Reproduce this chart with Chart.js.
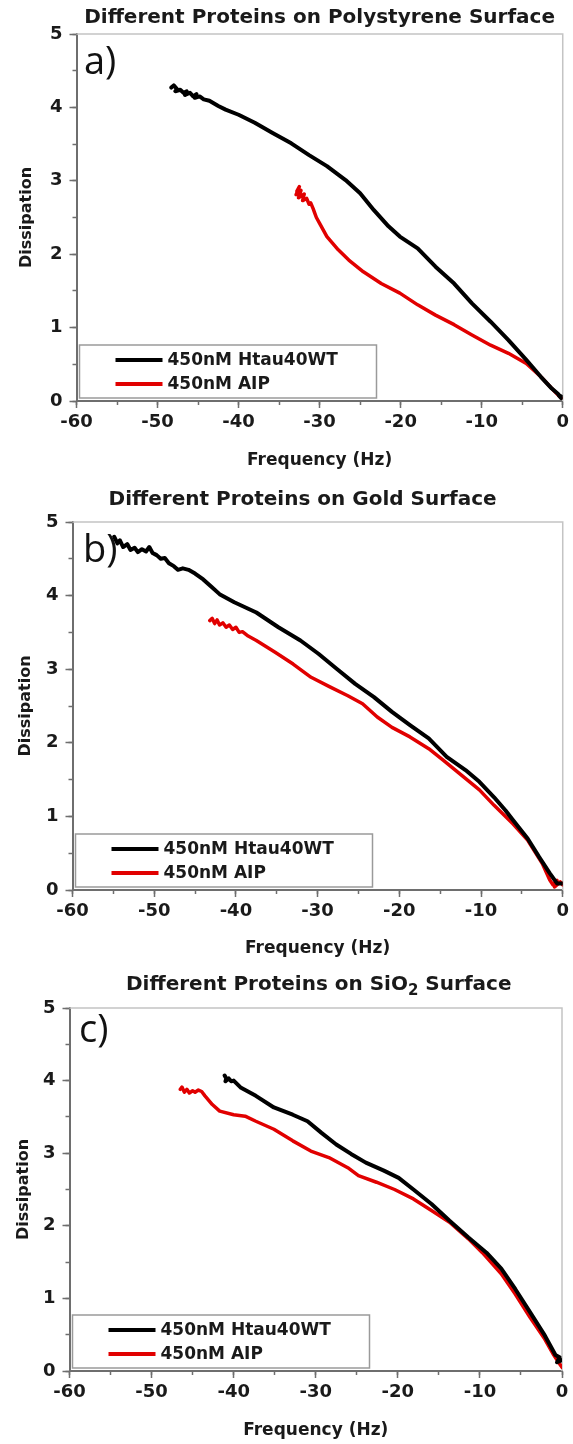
<!DOCTYPE html>
<html>
<head>
<meta charset="UTF-8">
<title>Different Proteins on Surfaces</title>
<script src="https://cdn.jsdelivr.net/npm/chart.js"></script>
<style>
	body { margin: 0; padding: 0; background: #fff; width: 573px; height: 1444px; overflow: hidden; position: relative; }
	.panel { position: absolute; left: 0; }
	canvas { display: block; }
</style>
</head>
<body>
<div class="panel" style="top:0px"><canvas id="chartA" width="573" height="478"></canvas></div>
<div class="panel" style="top:478px"><canvas id="chartB" width="573" height="482"></canvas></div>
<div class="panel" style="top:960px"><canvas id="chartC" width="573" height="484"></canvas></div>

<script>
// legend labels
var seriesNames = ['450nM Htau40WT', '450nM AIP'];
var seriesColors = ['#000000', '#e10000'];

// axis ticks
var freqTicks = [-60, -50, -40, -30, -20, -10, 0];
var dissTicks = [0, 1, 2, 3, 4, 5];

// a) polystyrene
var aBlackFreq = [-48.3, -48.0, -47.6, -47.8, -47.2, -46.8, -46.4, -46.6, -46.0, -45.6, -45.2, -45.4, -44.8, -44.3, -43.6, -42.5, -41.6, -40.0, -38.0, -35.8, -33.5, -31.3, -29.1, -26.8, -25.0, -23.3, -21.5, -20.1, -17.9, -15.7, -13.4, -11.2, -8.9, -6.7, -4.5, -2.7, -1.35, -0.6, -0.2, -0.5, 0];
var aBlackDiss = [4.27, 4.30, 4.25, 4.22, 4.24, 4.20, 4.22, 4.17, 4.20, 4.15, 4.18, 4.13, 4.15, 4.11, 4.09, 4.02, 3.97, 3.90, 3.79, 3.65, 3.51, 3.35, 3.20, 3.01, 2.83, 2.60, 2.38, 2.24, 2.08, 1.83, 1.60, 1.33, 1.08, 0.83, 0.56, 0.33, 0.17, 0.10, 0.04, 0.08, 0.05];
var aRedFreq = [-32.8, -32.5, -32.9, -32.3, -32.6, -31.9, -32.1, -31.6, -31.3, -31.1, -30.8, -30.6, -30.4, -30.0, -29.1, -27.7, -26.4, -24.6, -22.4, -20.1, -17.9, -15.7, -13.4, -11.2, -8.9, -6.7, -4.5, -2.7, -1.35, -0.2];
var aRedDiss = [2.86, 2.92, 2.81, 2.87, 2.77, 2.82, 2.73, 2.76, 2.68, 2.70, 2.62, 2.56, 2.50, 2.42, 2.24, 2.06, 1.92, 1.76, 1.60, 1.47, 1.31, 1.17, 1.04, 0.90, 0.76, 0.65, 0.51, 0.33, 0.17, 0.04];

// b) gold
var bBlackFreq = [-54.9, -54.5, -54.2, -53.8, -53.3, -52.9, -52.4, -52.0, -51.5, -51.0, -50.6, -50.2, -49.7, -49.2, -48.7, -48.2, -47.6, -47.1, -46.5, -45.8, -45.0, -44.0, -43.0, -42.0, -40.2, -37.5, -34.8, -32.1, -29.9, -27.6, -25.4, -23.1, -20.9, -18.7, -16.4, -14.2, -11.9, -10.2, -8.4, -7.0, -6.1, -4.3, -2.9, -1.6, -0.7, -0.1];
var bBlackDiss = [4.80, 4.71, 4.75, 4.66, 4.70, 4.62, 4.65, 4.59, 4.63, 4.60, 4.66, 4.58, 4.55, 4.50, 4.51, 4.44, 4.40, 4.35, 4.37, 4.35, 4.30, 4.22, 4.12, 4.02, 3.91, 3.77, 3.57, 3.39, 3.21, 3.00, 2.80, 2.62, 2.42, 2.24, 2.06, 1.81, 1.63, 1.47, 1.26, 1.08, 0.95, 0.70, 0.45, 0.23, 0.09, 0.09];
var bRedFreq = [-43.2, -42.9, -42.6, -42.3, -42.0, -41.6, -41.2, -40.8, -40.4, -40.0, -39.6, -39.2, -38.5, -37.5, -35.2, -33.0, -30.8, -28.5, -26.3, -24.5, -22.7, -20.9, -18.7, -16.4, -14.6, -12.4, -10.2, -8.4, -6.1, -4.3, -2.5, -1.6, -1.2, -0.7, -1.0, -0.3, 0];
var bRedDiss = [3.66, 3.69, 3.62, 3.67, 3.60, 3.63, 3.57, 3.60, 3.54, 3.57, 3.50, 3.51, 3.45, 3.39, 3.23, 3.07, 2.89, 2.76, 2.64, 2.53, 2.35, 2.21, 2.08, 1.92, 1.76, 1.56, 1.36, 1.15, 0.90, 0.68, 0.36, 0.14, 0.07, 0.13, 0.04, 0.11, 0.07];

// c) SiO2
var cBlackFreq = [-41.1, -40.9, -41.0, -40.6, -40.3, -40.0, -39.1, -37.3, -35.1, -32.8, -31.0, -29.3, -27.5, -25.7, -23.9, -21.7, -19.9, -18.1, -15.9, -13.7, -11.4, -9.2, -7.4, -5.7, -3.9, -2.1, -0.8, -0.3, -0.6, 0];
var cBlackDiss = [4.07, 4.03, 3.99, 4.03, 3.99, 4.00, 3.90, 3.79, 3.63, 3.53, 3.44, 3.28, 3.12, 2.99, 2.87, 2.76, 2.66, 2.50, 2.30, 2.07, 1.84, 1.63, 1.41, 1.13, 0.81, 0.49, 0.22, 0.19, 0.12, 0.15];
var cRedFreq = [-46.5, -46.3, -46.0, -45.7, -45.4, -45.0, -44.7, -44.3, -43.9, -43.5, -42.6, -41.7, -40.0, -38.6, -37.3, -35.1, -32.8, -30.6, -28.4, -26.1, -24.8, -22.6, -20.4, -18.1, -15.9, -13.7, -11.4, -9.7, -7.4, -5.7, -3.9, -2.1, -1.0, -0.3, 0];
var cRedDiss = [3.88, 3.91, 3.84, 3.88, 3.83, 3.86, 3.84, 3.87, 3.85, 3.79, 3.67, 3.58, 3.53, 3.51, 3.44, 3.33, 3.17, 3.03, 2.94, 2.80, 2.69, 2.60, 2.50, 2.37, 2.21, 2.05, 1.82, 1.63, 1.34, 1.06, 0.74, 0.44, 0.22, 0.10, 0.05];

var axisGray = '#6e6e6e';
var tickFont = { family: 'DejaVu Sans', weight: 'bold', size: 18 };

function pts(xs, ys) {
	var out = [];
	for (var i = 0; i < xs.length; i++) out.push({ x: xs[i], y: ys[i] });
	return out;
}

// frame, panel title, panel letter and boxed legend
var panelDecor = {
	id: 'panelDecor',
	beforeDatasetsDraw: function (chart) {
		var ctx = chart.ctx, ca = chart.chartArea;
		ctx.save();
		ctx.strokeStyle = '#c4c4c4';
		ctx.lineWidth = 1.5;
		ctx.beginPath();
		ctx.moveTo(ca.left, ca.top);
		ctx.lineTo(ca.right, ca.top);
		ctx.lineTo(ca.right, ca.bottom);
		ctx.stroke();
		ctx.restore();
	},
	afterDatasetsDraw: function (chart, args, o) {
		var ctx = chart.ctx, ca = chart.chartArea;
		ctx.save();

		// title (parts, so the SiO2 subscript can be drawn)
		var mainFont = 'bold 20px "DejaVu Sans"';
		var subFont = 'bold 15px "DejaVu Sans"';
		var total = 0;
		o.title.forEach(function (p) {
			ctx.font = p.sub ? subFont : mainFont;
			p.w = ctx.measureText(p.t).width;
			total += p.w;
		});
		var x = (ca.left + ca.right) / 2 + o.titleDx - total / 2;
		var y = ca.top + o.titleDy;
		ctx.fillStyle = '#1a1a1a';
		ctx.textBaseline = 'middle';
		ctx.textAlign = 'left';
		o.title.forEach(function (p) {
			ctx.font = p.sub ? subFont : mainFont;
			ctx.fillText(p.t, x, p.sub ? y + 7 : y);
			x += p.w;
		});

		// panel letter
		ctx.font = '38px "Open Sans"';
		ctx.textBaseline = 'alphabetic';
		ctx.fillStyle = '#111';
		ctx.fillText(o.letter, ca.left + o.letterDx, ca.top + o.letterDy);

		// legend box
		var lx = ca.left + 3, lw = 297, ly = ca.bottom - 56, lh = 53;
		ctx.fillStyle = '#fff';
		ctx.fillRect(lx, ly, lw, lh);
		ctx.strokeStyle = '#9a9a9a';
		ctx.lineWidth = 1.5;
		ctx.strokeRect(lx, ly, lw, lh);
		var rows = [ca.bottom - 41, ca.bottom - 17];
		ctx.font = 'bold 17px "DejaVu Sans"';
		ctx.textBaseline = 'middle';
		chart.data.datasets.forEach(function (ds, i) {
			ctx.strokeStyle = ds.borderColor;
			ctx.lineWidth = 4;
			ctx.beginPath();
			ctx.moveTo(ca.left + 39, rows[i]);
			ctx.lineTo(ca.left + 86, rows[i]);
			ctx.stroke();
			ctx.fillStyle = '#1a1a1a';
			ctx.fillText(ds.label, ca.left + 91, rows[i] + 1);
		});
		ctx.restore();
	}
};

function makePanel(canvasId, black, red, p) {
	var ctx = document.getElementById(canvasId).getContext('2d');
	return new Chart(ctx, {
		type: 'scatter',
		data: {
			datasets: [{
				label: seriesNames[0],
				data: black,
				showLine: true,
				borderColor: seriesColors[0],
				backgroundColor: seriesColors[0],
				borderWidth: 4,
				borderJoinStyle: 'round',
				borderCapStyle: 'round',
				pointRadius: 0,
				tension: 0
			}, {
				label: seriesNames[1],
				data: red,
				showLine: true,
				borderColor: seriesColors[1],
				backgroundColor: seriesColors[1],
				borderWidth: 3.5,
				borderJoinStyle: 'round',
				borderCapStyle: 'round',
				pointRadius: 0,
				tension: 0
			}]
		},
		options: {
			responsive: false,
			animation: false,
			devicePixelRatio: 1,
			layout: { padding: { top: p.top, right: p.right, left: 0, bottom: 0 } },
			plugins: {
				legend: { display: false },
				tooltip: { enabled: false },
				panelDecor: p.decor
			},
			scales: {
				x: {
					type: 'linear', position: 'bottom', weight: 1,
					min: -60, max: 0,
					afterBuildTicks: function (s) { s.ticks = freqTicks.map(function (v) { return { value: v }; }); },
					ticks: { font: tickFont, color: '#1a1a1a', padding: 4, maxRotation: 0 },
					grid: { drawOnChartArea: false, tickLength: 7, tickColor: axisGray, tickWidth: 1.5 },
					border: { color: axisGray, width: 2 },
					title: { display: true, text: 'Frequency (Hz)', color: '#1a1a1a',
						font: { family: 'DejaVu Sans', weight: 'bold', size: 17 },
						padding: { top: 0, bottom: p.xTitlePad } },
					afterFit: function (s) { s.height = p.xHeight; }
				},
				xMinor: {
					type: 'linear', position: 'bottom', weight: 0,
					min: -60, max: 0,
					ticks: { stepSize: 5, display: false },
					grid: { drawOnChartArea: false, tickLength: 4, tickColor: axisGray, tickWidth: 1.5 },
					border: { display: false },
					afterFit: function (s) { s.height = 0; }
				},
				y: {
					type: 'linear', position: 'left', weight: 1,
					min: 0, max: 5,
					afterBuildTicks: function (s) { s.ticks = dissTicks.map(function (v) { return { value: v }; }); },
					ticks: { font: tickFont, color: '#1a1a1a', padding: 7 },
					grid: { drawOnChartArea: false, tickLength: 7, tickColor: axisGray, tickWidth: 1.5 },
					border: { color: axisGray, width: 2 },
					title: { display: true, text: 'Dissipation', color: '#1a1a1a',
						font: { family: 'DejaVu Sans', weight: 'bold', size: 16 },
						padding: { top: p.yTitlePad, bottom: 0 } },
					afterFit: function (s) { s.width = p.left; }
				},
				yMinor: {
					type: 'linear', position: 'left', weight: 0,
					min: 0, max: 5,
					ticks: { stepSize: 0.5, display: false },
					grid: { drawOnChartArea: false, tickLength: 4, tickColor: axisGray, tickWidth: 1.5 },
					border: { display: false },
					afterFit: function (s) { s.width = 0; }
				}
			}
		},
		plugins: [panelDecor]
	});
}

makePanel('chartA', pts(aBlackFreq, aBlackDiss), pts(aRedFreq, aRedDiss), {
	top: 34, right: 7, left: 76.5, xHeight: 77, xTitlePad: 7, yTitlePad: 17,
	decor: { title: [{ t: 'Different Proteins on Polystyrene Surface' }], titleDx: 0, titleDy: -16,
		letter: 'a)', letterDx: 7.5, letterDy: 40 }
});
makePanel('chartB', pts(bBlackFreq, bBlackDiss), pts(bRedFreq, bRedDiss), {
	top: 44, right: 9, left: 72.5, xHeight: 70, xTitlePad: 1, yTitlePad: 16,
	decor: { title: [{ t: 'Different Proteins on Gold Surface' }], titleDx: -15, titleDy: -22,
		letter: 'b)', letterDx: 10.5, letterDy: 40 }
});
makePanel('chartC', pts(cBlackFreq, cBlackDiss), pts(cRedFreq, cRedDiss), {
	top: 48, right: 11, left: 69.5, xHeight: 73, xTitlePad: 3, yTitlePad: 14.5,
	decor: { title: [{ t: 'Different Proteins on SiO' }, { t: '2', sub: true }, { t: ' Surface' }], titleDx: 3, titleDy: -23.5,
		letter: 'c)', letterDx: 9.5, letterDy: 34 }
});
</script>
</body>
</html>
